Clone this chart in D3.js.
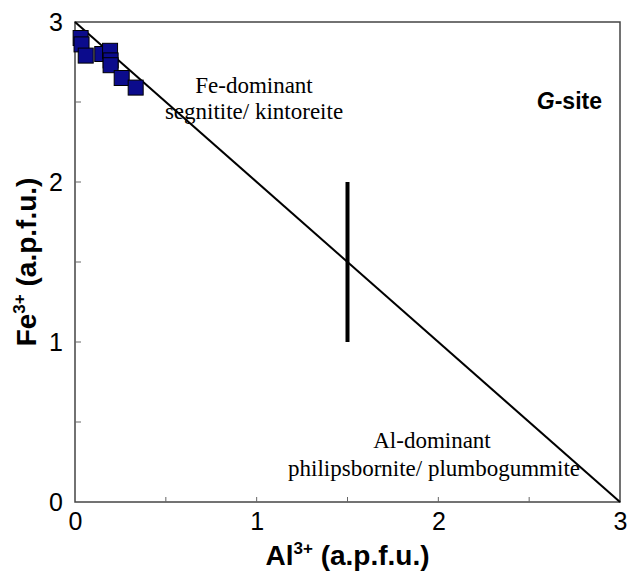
<!DOCTYPE html>
<html>
<head>
<meta charset="utf-8">
<script src="https://cdn.jsdelivr.net/npm/d3@7"></script>
<style>
  body { margin: 0; background: #fff; }
  .tick text { font-family: "Liberation Sans", Arial, sans-serif; }
</style>
</head>
<body>
<svg id="chart" width="628" height="571"></svg>
<script>
// Al3+ vs Fe3+ (a.p.f.u.) on the G-site
var al = [0.031, 0.036, 0.059, 0.150, 0.193, 0.196, 0.196, 0.257, 0.334];
var fe = [2.90, 2.86, 2.79, 2.80, 2.82, 2.76, 2.73, 2.65, 2.59];
var xTicks = [0, 1, 2, 3];
var yTicks = [0, 1, 2, 3];
var minorTicks = [0.5, 1, 1.5, 2, 2.5];

var svg = d3.select("#chart");
var margin = {top: 22, right: 8, bottom: 69, left: 75},
    width = 628 - margin.left - margin.right,
    height = 571 - margin.top - margin.bottom;

var g = svg.append("g")
    .attr("transform", "translate(" + margin.left + "," + margin.top + ")");

var x = d3.scaleLinear().domain([0, 3]).range([0, width]);
var y = d3.scaleLinear().domain([0, 3]).range([height, 0]);

// frame
g.append("rect")
    .attr("width", width)
    .attr("height", height)
    .attr("fill", "none")
    .attr("stroke", "#444")
    .attr("stroke-width", 1.5);

// minor inward ticks
g.selectAll(".xt")
    .data(minorTicks)
  .enter().append("line")
    .attr("x1", function(d) { return x(d); })
    .attr("x2", function(d) { return x(d); })
    .attr("y1", height)
    .attr("y2", height - 5)
    .attr("stroke", "#666");

g.selectAll(".yt")
    .data(minorTicks)
  .enter().append("line")
    .attr("y1", function(d) { return y(d); })
    .attr("y2", function(d) { return y(d); })
    .attr("x1", 0)
    .attr("x2", 6)
    .attr("stroke", "#666");

// tick labels (no axis lines)
var xAxis = g.append("g")
    .attr("transform", "translate(0," + height + ")")
    .call(d3.axisBottom(x).tickValues(xTicks).tickFormat(d3.format("d")).tickSize(0).tickPadding(10));
xAxis.select(".domain").remove();
xAxis.selectAll("text").attr("font-size", 25).attr("fill", "#000");

var yAxis = g.append("g")
    .call(d3.axisLeft(y).tickValues(yTicks).tickFormat(d3.format("d")).tickSize(0).tickPadding(12));
yAxis.select(".domain").remove();
yAxis.selectAll("text").attr("font-size", 25).attr("fill", "#000");

// Fe + Al = 3
g.append("line")
    .attr("x1", x(0)).attr("y1", y(3))
    .attr("x2", x(3)).attr("y2", y(0))
    .attr("stroke", "#000")
    .attr("stroke-width", 2);

// Fe = Al boundary marker
g.append("line")
    .attr("x1", x(1.5)).attr("y1", y(2))
    .attr("x2", x(1.5)).attr("y2", y(1))
    .attr("stroke", "#000")
    .attr("stroke-width", 4);

// data points
var s = 15;
g.selectAll(".pt")
    .data(al)
  .enter().append("rect")
    .attr("class", "pt")
    .attr("x", function(d) { return x(d) - s / 2; })
    .attr("y", function(d, i) { return y(fe[i]) - s / 2; })
    .attr("width", s)
    .attr("height", s)
    .attr("fill", "#0b0b8c")
    .attr("stroke", "#000")
    .attr("stroke-width", 1);

// annotations
var serif = "'Liberation Serif', 'Times New Roman', serif";
g.append("text")
    .attr("x", 179).attr("y", 71)
    .attr("text-anchor", "middle")
    .attr("font-family", serif).attr("font-size", 23)
    .text("Fe-dominant");
g.append("text")
    .attr("x", 179).attr("y", 97)
    .attr("text-anchor", "middle")
    .attr("font-family", serif).attr("font-size", 23)
    .text("segnitite/ kintoreite");

g.append("text")
    .attr("x", 357).attr("y", 426)
    .attr("text-anchor", "middle")
    .attr("font-family", serif).attr("font-size", 23)
    .text("Al-dominant");
g.append("text")
    .attr("x", 359).attr("y", 454)
    .attr("text-anchor", "middle")
    .attr("font-family", serif).attr("font-size", 23)
    .text("philipsbornite/ plumbogummite");

var sans = "'Liberation Sans', Arial, sans-serif";
var gs = g.append("text")
    .attr("x", 527).attr("y", 87)
    .attr("text-anchor", "end")
    .attr("font-family", sans)
    .attr("font-size", 23)
    .attr("font-weight", "bold");
gs.append("tspan").attr("font-style", "italic").text("G");
gs.append("tspan").text("-site");

// axis titles
var xt = svg.append("text")
    .attr("x", margin.left + width / 2).attr("y", 565)
    .attr("text-anchor", "middle")
    .attr("font-family", sans).attr("font-size", 28).attr("font-weight", "bold");
xt.append("tspan").text("Al");
xt.append("tspan").attr("font-size", 17).attr("dy", -11).text("3+");
xt.append("tspan").attr("dy", 11).text(" (a.p.f.u.)");

var yt = svg.append("text")
    .attr("transform", "translate(36," + (margin.top + height / 2) + ") rotate(-90)")
    .attr("text-anchor", "middle")
    .attr("font-family", sans).attr("font-size", 28).attr("font-weight", "bold");
yt.append("tspan").text("Fe");
yt.append("tspan").attr("font-size", 17).attr("dy", -11).text("3+");
yt.append("tspan").attr("dy", 11).text(" (a.p.f.u.)");
</script>
</body>
</html>
